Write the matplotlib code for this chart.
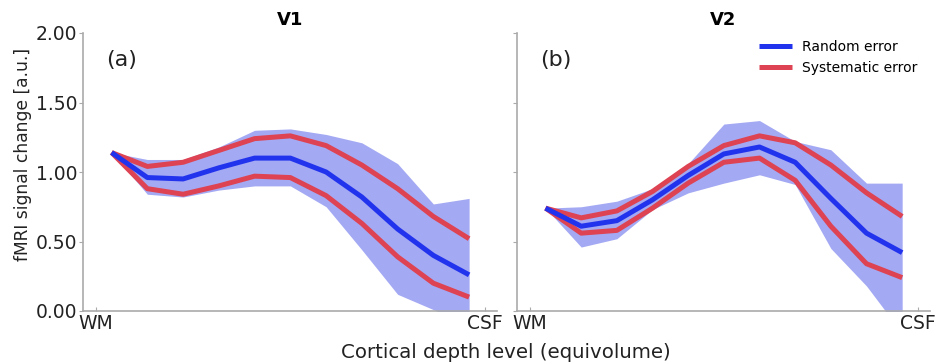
import numpy as np
import matplotlib
matplotlib.use("Agg")
import matplotlib.pyplot as plt

depth = np.arange(11)

# V1
v1_random = [1.14, 0.96, 0.95, 1.03, 1.10, 1.10, 1.00, 0.82, 0.59, 0.40, 0.26]
v1_sys_upper = [1.14, 1.04, 1.07, 1.155, 1.24, 1.26, 1.19, 1.05, 0.88, 0.68, 0.52]
v1_sys_lower = [1.14, 0.88, 0.84, 0.90, 0.97, 0.96, 0.83, 0.63, 0.39, 0.20, 0.10]
v1_band_upper = [1.14, 1.09, 1.09, 1.18, 1.30, 1.31, 1.27, 1.21, 1.06, 0.77, 0.81]
v1_band_lower = [1.14, 0.84, 0.82, 0.87, 0.90, 0.90, 0.75, 0.44, 0.12, 0.01, -0.10]

# V2
v2_random = [0.74, 0.61, 0.65, 0.80, 0.975, 1.13, 1.18, 1.07, 0.81, 0.56, 0.42]
v2_sys_upper = [0.74, 0.67, 0.72, 0.86, 1.04, 1.19, 1.26, 1.21, 1.05, 0.85, 0.68]
v2_sys_lower = [0.74, 0.56, 0.58, 0.74, 0.92, 1.07, 1.10, 0.94, 0.61, 0.34, 0.24]
v2_band_upper = [0.74, 0.75, 0.79, 0.88, 1.06, 1.345, 1.37, 1.22, 1.16, 0.92, 0.92]
v2_band_lower = [0.74, 0.46, 0.52, 0.73, 0.85, 0.92, 0.98, 0.91, 0.45, 0.18, -0.16]

titles = ["V1", "V2"]
panel_labels = ["(a)", "(b)"]
xtick_labels = ["WM", "CSF"]
ytick_values = [0.0, 0.5, 1.0, 1.5, 2.0]
legend_labels = ["Random error", "Systematic error"]

BLUE = "#2233ee"
RED = "#dd4352"
FILL = "#a4a9f3"
SPINE = "#aaaaaa"
TEXT = "#222222"

fig = plt.figure(figsize=(9.37, 3.63), dpi=100)
W, H = 937, 363
ax1 = fig.add_axes([83 / W, 1 - 311 / H, (497 - 83) / W, (311 - 33) / H])
ax2 = fig.add_axes([517 / W, 1 - 311 / H, (930 - 517) / W, (311 - 33) / H])

data = [
    (v1_random, v1_sys_upper, v1_sys_lower, v1_band_upper, v1_band_lower),
    (v2_random, v2_sys_upper, v2_sys_lower, v2_band_upper, v2_band_lower),
]

for i, (ax, d) in enumerate(zip([ax1, ax2], data)):
    rnd, su, sl, bu, bl = d
    ax.fill_between(depth, bl, bu, color=FILL, lw=0, zorder=1)
    l1, = ax.plot(depth, rnd, color=BLUE, lw=3.6, zorder=3, solid_capstyle="butt")
    l2, = ax.plot(depth, su, color=RED, lw=3.6, zorder=2, solid_capstyle="butt")
    ax.plot(depth, sl, color=RED, lw=3.6, zorder=2, solid_capstyle="butt")
    ax.set_xlim(-0.8, 10.78)
    ax.set_ylim(0, 2.0)
    ax.set_xticks([-0.44, 10.45])
    ax.set_xticklabels(xtick_labels, fontsize=13.5)
    ax.set_yticks(ytick_values)
    if i == 0:
        ax.set_yticklabels([f"{v:.2f}" for v in ytick_values], fontsize=13.5)
    else:
        ax.set_yticklabels([])
    for s in ["top", "right"]:
        ax.spines[s].set_visible(False)
    for s in ["left", "bottom"]:
        ax.spines[s].set_color(SPINE)
        ax.spines[s].set_linewidth(1.2)
    ax.tick_params(axis="both", colors=SPINE, labelcolor=TEXT, length=3, width=0.8, pad=1)
    ax.tick_params(axis="x", direction="in", pad=2)
    ax.set_title(titles[i], fontsize=13, fontweight="bold", pad=6)
    ax.text(0.055, 0.94, panel_labels[i], transform=ax.transAxes, fontsize=16,
            ha="left", va="top", color=TEXT)
    if i == 1:
        ax.legend([l1, l2], legend_labels, loc="upper right", frameon=False,
                  fontsize=10, handlelength=2.4, bbox_to_anchor=(1.0, 1.02),
                  labelspacing=0.5, handletextpad=0.7)

fig.text(23.5 / W, 1 - 154 / H, "fMRI signal change [a.u.]", rotation=90,
         ha="center", va="center", fontsize=12.3, color=TEXT)
fig.text(506 / W, 1 - 353 / H, "Cortical depth level (equivolume)", ha="center", va="center",
         fontsize=14.2, color=TEXT)

fig.savefig("out.png", dpi=100)
